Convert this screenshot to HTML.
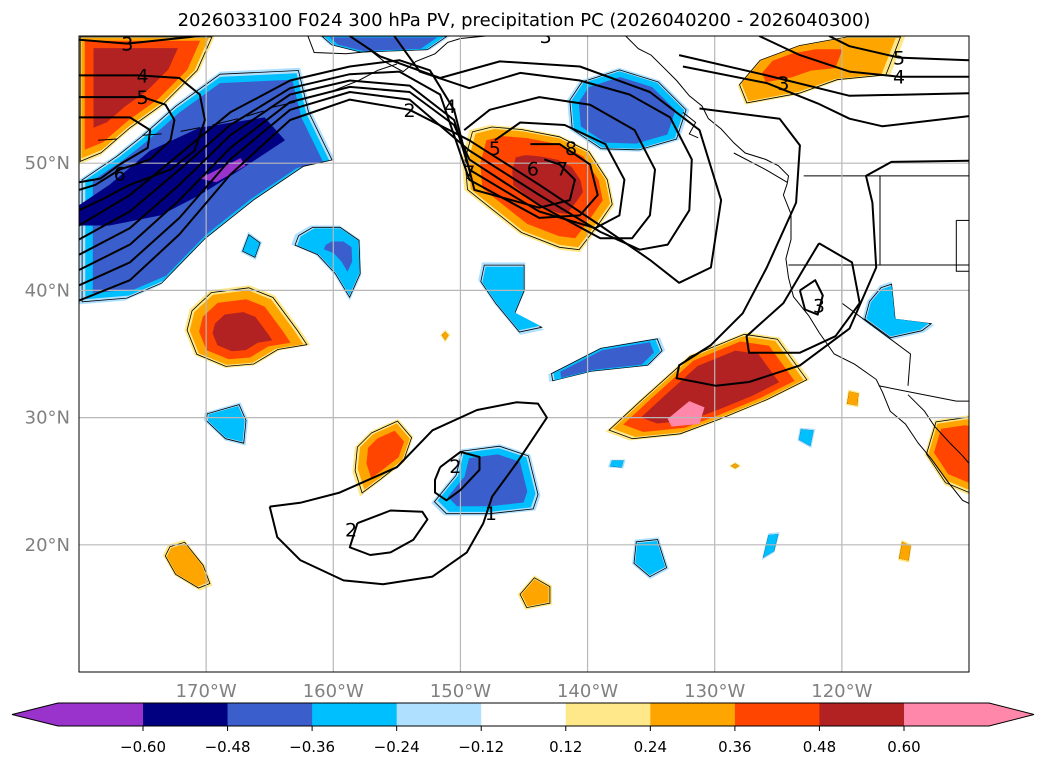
<!DOCTYPE html>
<html><head><meta charset="utf-8">
<style>
body{margin:0;background:#fff;width:1047px;height:765px;overflow:hidden;font-family:"DejaVu Sans","Liberation Sans",sans-serif;}
svg{display:block}
</style></head>
<body>
<svg id="chart" width="1047" height="765" xmlns="http://www.w3.org/2000/svg">
<text x="524" y="26" text-anchor="middle" font-size="18" font-family="DejaVu Sans, Liberation Sans, sans-serif">2026033100 F024 300 hPa PV, precipitation PC (2026040200 - 2026040300)</text>
<defs><clipPath id="mapclip"><rect x="79" y="36" width="890" height="636"/></clipPath></defs>
<g id="map" clip-path="url(#mapclip)"></g>
<rect x="79" y="36" width="890" height="636" fill="none" stroke="#000" stroke-width="1"/>
<g id="axes"></g>
<g id="cbar"></g>
</svg>
<script>
// ---- colorbar data ----
const levelColors = ["#9933cc","#000080","#3a5fcd","#00bfff","#b0e0ff","#ffffff","#ffe88a","#ffa500","#ff4500","#b22222","#ff88aa"];
const cbarTicks = [-0.60,-0.48,-0.36,-0.24,-0.12,0.12,0.24,0.36,0.48,0.60];
const cbarTickLabels = ["\u22120.60","\u22120.48","\u22120.36","\u22120.24","\u22120.12","0.12","0.24","0.36","0.48","0.60"];
// ---- axis data ----
const lonTicks = [-170,-160,-150,-140,-130,-120];
const lonLabels = ["170°W","160°W","150°W","140°W","130°W","120°W"];
const latTicks = [20,30,40,50];
const latLabels = ["20°N","30°N","40°N","50°N"];
// ---- precipitation PC blobs ----
const blobs = [
 {pts:[[-180,60],[-169.3,60],[-170.5,57.3],[-173.2,54.6],[-176,52.6],[-178.3,50.6],[-180,49.9]],lv:[6,7,8,9],ins:[0,5,12,30],c:[-177,57.5]},
 {pts:[[-161.1,60],[-150.8,60],[-152.4,58.9],[-157.9,58.7],[-160.3,59.3]],lv:[4,3,2],ins:[0,4,9]},
 {pts:[[-149.3,52.6],[-147.7,53],[-145.3,52.8],[-142.2,52.2],[-139.8,51],[-138.3,48.7],[-137.9,46.7],[-139,45.1],[-140.6,43],[-142.2,43.2],[-145.3,44.4],[-147.7,46.3],[-149.7,47.9],[-149.9,50.3]],lv:[6,7,8,9],ins:[0,5,14,38],c:[-142.5,48.6]},
 {pts:[[-140.6,56.5],[-137.5,57.5],[-134.3,56.5],[-132,54.2],[-132.8,51.8],[-135.9,50.9],[-139,51],[-141.4,52.6],[-141.6,55]],lv:[4,3,2],ins:[0,4,11]},
 {pts:[[-126.5,58.1],[-123.3,59.3],[-119.4,60],[-115,60],[-116.2,56.9],[-120.2,56.5],[-123.3,55.4],[-127.6,54.6],[-128.2,56.1]],lv:[6,7,8],ins:[0,5,32],c:[-124.5,58]},
 {pts:[[-171.3,38.5],[-169.7,40],[-166.6,40.4],[-164.6,39.6],[-162.6,36.9],[-161.8,35.7],[-164.2,35.3],[-166.2,34.1],[-168.5,33.9],[-170.9,34.9],[-171.7,36.9]],lv:[6,7,8,9],ins:[0,5,14,27],c:[-167.5,36.4]},
 {pts:[[-166.7,44.6],[-165.6,43.8],[-166.1,42.4],[-167.3,43]],lv:[4,3],ins:[0,3]},
 {pts:[[-163,44.4],[-161.8,45.1],[-159.5,45.1],[-157.9,44],[-157.8,41.2],[-158.7,39.2],[-159.9,41.2],[-161.4,42.8],[-163.3,43.6]],lv:[4,3,2],ins:[0,4,22],c:[-159,43]},
 {pts:[[-148.3,42.2],[-144.9,42.2],[-144.9,40],[-145.7,38.1],[-143.4,36.9],[-145.3,36.5],[-147.3,38.9],[-148.6,40.8]],lv:[4,3],ins:[0,4]},
 {pts:[[-143.1,33.4],[-139,35.5],[-134.3,36.3],[-133.9,35.3],[-135.1,34.1],[-139.8,33.6],[-143,32.8]],lv:[4,3,2],ins:[0,4,9]},
 {pts:[[-138.6,28.9],[-135.9,31.4],[-132,34.9],[-127.6,36.7],[-124.9,36.3],[-123.3,34.1],[-122.5,33],[-125.7,31.4],[-129.6,29.8],[-132.8,28.6],[-136.7,28.2]],lv:[6,7,8,9],ins:[0,5,12,24],c:[-130,32.3]},
 {pts:[[-119.5,32.2],[-118.6,32],[-118.7,30.8],[-119.7,31]],lv:[6,7],ins:[0,2]},
 {pts:[[-117,40.4],[-116.1,40.7],[-115.8,37.7],[-112.7,37.3],[-113.5,36.7],[-116.2,36.1],[-118.4,37.7],[-118,39.2]],lv:[4,3],ins:[0,4]},
 {pts:[[-112.7,29.8],[-110,30.2],[-109,30],[-109,23.5],[-111.9,24.7],[-113.5,27.1]],lv:[6,7,8],ins:[0,5,12]},
 {pts:[[-170.1,30.4],[-167.3,31.2],[-166.7,29.8],[-166.9,27.8],[-168.5,28.2],[-170.2,29.8]],lv:[4,3],ins:[0,4]},
 {pts:[[-157.1,28.9],[-154.9,29.9],[-153.7,28.5],[-154.4,26.5],[-156.3,25],[-157.9,23.8],[-158.5,25.7],[-158.3,27.7]],lv:[6,7,8],ins:[0,5,13],c:[-155.6,27.5]},
 {pts:[[-150,27.5],[-146.9,27.9],[-144.5,27.1],[-143.7,23.9],[-144.1,22.7],[-147.7,22.3],[-151.3,22.3],[-152.3,23.3],[-150.5,25.5]],lv:[4,3,2],ins:[0,5,13],c:[-147.5,25]},
 {pts:[[-173,20],[-171.7,20.4],[-170.1,18.4],[-169.5,16.8],[-170.5,16.4],[-172.5,17.6],[-173.4,19.2]],lv:[6,7],ins:[0,4]},
 {pts:[[-144.2,17.6],[-142.8,16.8],[-142.8,15.3],[-144.9,14.9],[-145.5,16.1]],lv:[6,7],ins:[0,4]},
 {pts:[[-136.3,20.4],[-134.4,20.6],[-133.6,18.1],[-135.1,17.3],[-136.5,18.5]],lv:[4,3],ins:[0,4]},
 {pts:[[-125.8,20.9],[-124.9,21],[-125.3,19.4],[-126.3,18.8]],lv:[4,3],ins:[0,2]},
 {pts:[[-115.3,20.4],[-114.5,20],[-114.7,18.6],[-115.6,18.8]],lv:[6,7],ins:[0,2]},
 {pts:[[-123.3,29.2],[-122.1,29.1],[-122.4,27.6],[-123.5,28.2]],lv:[4,3],ins:[0,2]},
 {pts:[[-138.2,26.7],[-137,26.7],[-137.2,26],[-138.4,26.1]],lv:[4,3],ins:[0,2]},
 {pts:[[-128.9,26.2],[-128.4,26.5],[-127.9,26.2],[-128.4,25.9]],lv:[6,7],ins:[0,2]},
 {pts:[[-151.6,36.5],[-151.2,36.9],[-150.8,36.5],[-151.2,35.9]],lv:[6,7],ins:[0,2]}
];
const bandOuter = [[-180,38.9],[-180,48.7],[-177.2,50.6],[-175.2,52.2],[-172.5,54.6],[-168.9,57.2],[-162.6,57.5],[-161.8,54.2],[-159.9,50.3],[-162.2,49.8],[-166.2,47.1],[-170.1,44],[-173.6,40.4],[-176.4,39.2]];
const bandNavy = [[-180,45.1],[-180,46.7],[-177.6,48.3],[-174.4,51],[-170.5,52.8],[-165.4,53.6],[-163.8,51.8],[-167.3,49.5],[-170.5,47.5],[-173.6,45.9],[-177.6,45.1]];
const bandPurple = [[-170.5,48.8],[-167.3,50.4],[-166.9,49.8],[-169.2,48.5]];
const pinkCore = [[-133.7,29.9],[-132,31.3],[-130.8,30.8],[-131.2,29.5],[-133.4,29.3]];
// ---- PV contours ----
const contours = [
 [[-180,39.2],[-176,40.8],[-172.1,44.4],[-168.1,49.1],[-163.4,53.4],[-158.7,55],[-154,54.2],[-149.3,51.8],[-143.8,48.3],[-139,45.1],[-135.1,42.4],[-132.8,40.6],[-130.3,41.8],[-129.5,47.1],[-131.2,52.6],[-135.1,55.6],[-140.6,57.6],[-146.9,58],[-151.6,56.7],[-156.3,58.4],[-158.7,60]],
 [[-180,40.4],[-176,42.2],[-172.1,45.7],[-168.1,50.3],[-163.4,54.2],[-158.7,55.6],[-154,55],[-149.3,51],[-143.8,47.5],[-139,44.6],[-135.9,43.2],[-133.7,43.6],[-132,46.3],[-131.8,50.3],[-133.5,53.6],[-136.7,55.4],[-140.6,56.5],[-145.3,57.1],[-149.3,55.9],[-153.2,57.2],[-155.2,60]],
 [[-180,41.6],[-176,43.6],[-172.1,47.1],[-168.1,51.2],[-163.4,54.8],[-158.7,56],[-154,55.6],[-150.5,53],[-149.3,50.3],[-143.8,46.7],[-139,44.1],[-136.5,44.1],[-135.1,45.9],[-134.7,49.5],[-136.3,52.6],[-139.8,54.6],[-143.8,55.2],[-147.7,54.2],[-149.7,52.6]],
 [[-180,42.8],[-176,44.9],[-172.1,48.3],[-168.1,52.2],[-163.4,55.4],[-158.7,56.5],[-154,56.1],[-150.5,53.4],[-149.3,49.5],[-143.8,46.2],[-139.4,44.9],[-137.5,45.9],[-137.1,48.7],[-138.6,51.5],[-141.8,53],[-145.3,53.2],[-147.3,51.8]],
 [[-180,44],[-176,46.2],[-172.1,49.5],[-168.1,53],[-163.4,55.9],[-158.7,57],[-154.8,57.2],[-151.6,55.4],[-149.3,48.7],[-143.8,45.7],[-140.6,45.9],[-139.2,47.5],[-139.8,49.9],[-142.2,51.5],[-144.5,51.5]],
 [[-180,45.1],[-176,47.5],[-172.1,50.7],[-168.1,54],[-163.4,56.5],[-158.7,57.6],[-154.8,58.1],[-152.4,57.3],[-150.5,54.2],[-148.9,47.9],[-143.8,46.5],[-141.4,47.1],[-141,48.7],[-142.2,49.9],[-143.4,50.3]],
 [[-180,59.7],[-176.2,59.4],[-170.5,60]],
 [[-180,56.9],[-175.3,56.9],[-172.1,56.7],[-170.5,55.4],[-170.1,53.4],[-170.9,51],[-172.8,49.5],[-176,48.3],[-178.3,47.1],[-180,46.3]],
 [[-180,55.2],[-175,55.2],[-173.2,54.6],[-172.5,53.4],[-172.8,51.8],[-174.4,50.3],[-176.8,49.5],[-178.7,48.3],[-180,47.9]],
 [[-180,53.6],[-176,53.6],[-174.4,52.6],[-174.6,51.2],[-176.8,49.9],[-178.3,48.8],[-180,48.5]],
 [[-121,60],[-119.4,59.2],[-115.5,58.3],[-110,58.1]],
 [[-126.5,60],[-123.3,58.5],[-119.4,57.2],[-115.5,56.8],[-110,56.8]],
 [[-132.5,57.6],[-125.9,56.3],[-121.9,54.7],[-119.4,53.5],[-116.8,52.9],[-110,53.7]],
 [[-132.8,58.5],[-125.9,56.9],[-119.4,55.3],[-110,55.5]],
 [[-131.2,54.3],[-124.9,53.5],[-123.3,51.4],[-123.6,46.9],[-125.9,41.8],[-127.8,38.2],[-130.3,35.7],[-132.8,34.1],[-133,33.1],[-129.9,32.5],[-127.3,32.8],[-123.3,34.1],[-119.4,37],[-117.3,41.8],[-117.6,46.9],[-118.1,49],[-116.1,50.1],[-110,50.2]],
 [[-121.8,43.7],[-119.2,42.2],[-118.6,39],[-120.5,36.4],[-123.3,35.1],[-127.3,35.1],[-127.5,36.4],[-124.6,39],[-123,41.7],[-121.8,43.7]],
 [[-123.3,40],[-122.1,40.8],[-121.5,39.6],[-121.9,38.1],[-122.9,38.5],[-123.3,40]],
 [[-165,23],[-164.4,20.6],[-162.6,18.8],[-159.2,17.2],[-156.1,16.9],[-152.2,17.5],[-149.5,19.4],[-148.2,21.7],[-147.5,23.8],[-145.6,26.4],[-143.2,30],[-143.9,31.1],[-145.6,31.2],[-148.7,30.6],[-152.2,29],[-155,26.1],[-159.5,24.1],[-162.6,23.3],[-165,23]],
 [[-158.1,21.7],[-155.5,22.7],[-153,22.6],[-152.6,22],[-153.7,20.4],[-155.5,19.4],[-157.1,19.2],[-158.7,19.8],[-158.1,21.7]],
 [[-151.6,26.1],[-150,27.3],[-148.5,26.9],[-148.5,25.9],[-150,24.3],[-151.1,23.5],[-152,24.1],[-152,25.1],[-151.6,26.1]]
];
const contourLabels = [["3",-176.2,59.4],["4",-175,56.9],["5",-175,55.2],["6",-176.8,49.2],["2",-154,54.2],["4",-150.8,54.5],["5",-147.3,51.2],["6",-144.3,49.6],["7",-142,49.6],["7",-149.3,49.3],["8",-141.3,51.2],["5",-115.5,58.3],["4",-115.5,56.8],["3",-124.6,56.3],["3",-121.8,38.8],["2",-150.4,26.2],["2",-158.6,21.2],["1",-147.6,22.5],["3",-143.3,60]];
// ---- coastlines / borders ----
const coasts = [
 [[-162,60],[-161.5,58.7],[-159,58.6],[-157,58.8],[-156,58],[-154.5,57.2],[-153.5,58],[-152,58.6],[-151,59.5],[-150,59.8],[-148,60]],
 [[-162.5,55],[-160,55.7],[-158,56.5],[-156.5,57.3],[-155,57.8]],
 [[-137,60],[-136,59],[-135,58.5],[-134,57.5],[-133,56.5],[-132,55.3],[-131,54.5],[-130.5,53.5],[-129.5,52.7],[-128.5,51.6],[-127.6,50.8],[-126,50.3],[-125,49.8],[-124.2,49],[-124.3,48.4],[-124.6,47.5],[-124,46],[-124,44],[-124.4,42.5],[-124.2,41],[-123.8,39.5],[-122.6,38],[-121.8,36.7],[-120.6,35],[-119,34.2],[-117.3,33],[-116.8,32],[-116.2,30.5],[-115,29.5],[-114,28],[-113,26.8],[-111.7,25],[-110.5,23.5],[-109.5,23]],
 [[-114.8,31.8],[-113.5,30.5],[-112.7,29.3],[-111.5,28],[-110.5,27],[-109.5,25.8],[-109,25]],
 [[-123,49],[-110,49]],[[-117,49],[-117,42]],[[-124.2,42],[-110,42]],[[-120,42],[-120,39],[-114.6,35],[-114.8,32.5]],
 [[-117.1,32.5],[-111,31.3],[-109.5,31.3]],[[-111,45.5],[-110,45.5]],[[-111,45.5],[-111,41.5],[-110,41.5]],
 [[-178.5,51.8],[-177,51.9]],[[-175,52.2],[-173.5,52.3]],[[-172,52.5],[-170.5,52.8]],[[-169.5,53],[-167.5,53.5]],[[-166.8,53.7],[-165.5,54.1]],[[-164.8,54.4],[-163,54.8]],
 [[-132.5,54],[-131.5,53.2],[-132,52.3],[-131.3,52]],[[-128.5,50.8],[-126,49.5],[-124.3,48.5]]
];

const NS="http://www.w3.org/2000/svg";
const X0=79,X1=969,Y0=36,Y1=672,LON0=-180,LON1=-110,LAT0=10,LAT1=60;
function xs(lon){return X0+(lon-LON0)/(LON1-LON0)*(X1-X0);}
function ys(lat){return Y1-(lat-LAT0)/(LAT1-LAT0)*(Y1-Y0);}
function proj(p){return [xs(p[0]),ys(p[1])];}
function pathOf(pp,close){return "M"+pp.map(p=>p[0].toFixed(1)+","+p[1].toFixed(1)).join("L")+(close?"Z":"");}
function mk(tag,attrs,parent){const e=document.createElementNS(NS,tag);for(const k in attrs)e.setAttribute(k,attrs[k]);parent.appendChild(e);return e;}

const map=document.getElementById("map");
blobs.forEach((b,bi)=>{
  const pp=b.pts.map(proj);
  let c=b.c?proj(b.c):[pp.reduce((s,p)=>s+p[0],0)/pp.length,pp.reduce((s,p)=>s+p[1],0)/pp.length];
  const R=pp.reduce((s,p)=>s+Math.hypot(p[0]-c[0],p[1]-c[1]),0)/pp.length;
  b.lv.forEach((lv,k)=>{
    const s=Math.max(0.08,1-b.ins[k]/R);
    const q=pp.map(p=>[c[0]+(p[0]-c[0])*s,c[1]+(p[1]-c[1])*s]);
    const el=mk("path",{d:pathOf(q,true),fill:levelColors[lv],stroke:"none"},map);
    
    
    if(k===0){
      const s2=Math.max(0.08,1-2.5/R);
      const q2=pp.map(p=>[c[0]+(p[0]-c[0])*s2,c[1]+(p[1]-c[1])*s2]);
      const ol=mk("path",{d:pathOf(q2,true),fill:"none",stroke:"#000","stroke-width":0.8},map);
      
      
    }
  });
});
(function(){
  const pp=bandOuter.map(proj);
  const c=proj([-169,48]);
  const R=pp.reduce((s,p)=>s+Math.hypot(p[0]-c[0],p[1]-c[1]),0)/pp.length;
  [[4,0],[3,5],[2,11]].forEach(([lv,ins])=>{
    const s=1-ins/R;
    const q=pp.map(p=>[c[0]+(p[0]-c[0])*s,c[1]+(p[1]-c[1])*s]);
    const el=mk("path",{d:pathOf(q,true),fill:levelColors[lv]},map);
    
    
  });
  const s2=1-2.5/R;
  const ol=mk("path",{d:pathOf(pp.map(p=>[c[0]+(p[0]-c[0])*s2,c[1]+(p[1]-c[1])*s2]),true),fill:"none",stroke:"#000","stroke-width":0.8},map);
  
  
  const nv=mk("path",{d:pathOf(bandNavy.map(proj),true),fill:levelColors[1]},map);
  
  
  const pu=mk("path",{d:pathOf(bandPurple.map(proj),true),fill:levelColors[0]},map);
  
  
  const pk=mk("path",{d:pathOf(pinkCore.map(proj),true),fill:levelColors[10]},map);
  
  
})();
coasts.forEach(cl=>{
  const el=mk("path",{d:pathOf(cl.map(proj),false),fill:"none",stroke:"#000","stroke-width":1},map);
  
  
});
lonTicks.forEach(l=>{const el=mk("line",{x1:xs(l),x2:xs(l),y1:Y0,y2:Y1,stroke:"#b8b8b8","stroke-width":1.2},map);
  
  });
latTicks.forEach(l=>{const el=mk("line",{x1:X0,x2:X1,y1:ys(l),y2:ys(l),stroke:"#b8b8b8","stroke-width":1.2},map);
  
  });
contours.forEach(cl=>{
  const el=mk("path",{d:pathOf(cl.map(proj),false),fill:"none",stroke:"#000","stroke-width":2,"stroke-linejoin":"round"},map);
  
  
});
contourLabels.forEach(([t,lo,la])=>{
  const el=mk("text",{x:xs(lo),y:ys(la)+7,"text-anchor":"middle","font-size":19,fill:"#000"},map);
  el.textContent=t;
  
  
});
const axes=document.getElementById("axes");
lonTicks.forEach((l,i)=>{const el=mk("text",{x:xs(l),y:697,"text-anchor":"middle","font-size":18,fill:"#808080"},axes);
  el.textContent=lonLabels[i];
  
  });
latTicks.forEach((l,i)=>{const el=mk("text",{x:70,y:ys(l)+6,"text-anchor":"end","font-size":18,fill:"#808080"},axes);
  el.textContent=latLabels[i];
  
  });
const cb=document.getElementById("cbar");
const CB0=143,CB1=904,CT=703,CBt=726;
function cx(v){const i=cbarTicks.indexOf(v);return CB0+i*(CB1-CB0)/(cbarTicks.length-1);}
const lp=mk("polygon",{points:`12,714.5 58,${CT} ${CB0},${CT} ${CB0},${CBt} 58,${CBt}`,fill:levelColors[0]},cb);


for(let i=0;i<cbarTicks.length-1;i++){
  const a=cx(cbarTicks[i]),b=cx(cbarTicks[i+1]);
  const r=mk("rect",{x:a,y:CT,width:b-a+0.5,height:CBt-CT,fill:levelColors[i+1]},cb);
  
  
}
const hp=mk("polygon",{points:`${CB1},${CT} 989,${CT} 1034,714.5 989,${CBt} ${CB1},${CBt}`,fill:levelColors[10]},cb);


const ob=mk("polygon",{points:`12,714.5 58,${CT} 989,${CT} 1034,714.5 989,${CBt} 58,${CBt}`,fill:"none",stroke:"#000","stroke-width":1},cb);


cbarTicks.forEach((v,i)=>{
  const t=mk("line",{x1:cx(v),x2:cx(v),y1:CBt,y2:CBt+5,stroke:"#000"},cb);
  
  
  const tx=mk("text",{x:cx(v),y:752,"text-anchor":"middle","font-size":15,fill:"#000"},cb);
  tx.textContent=cbarTickLabels[i];
  
  
});
</script>
</body></html>
